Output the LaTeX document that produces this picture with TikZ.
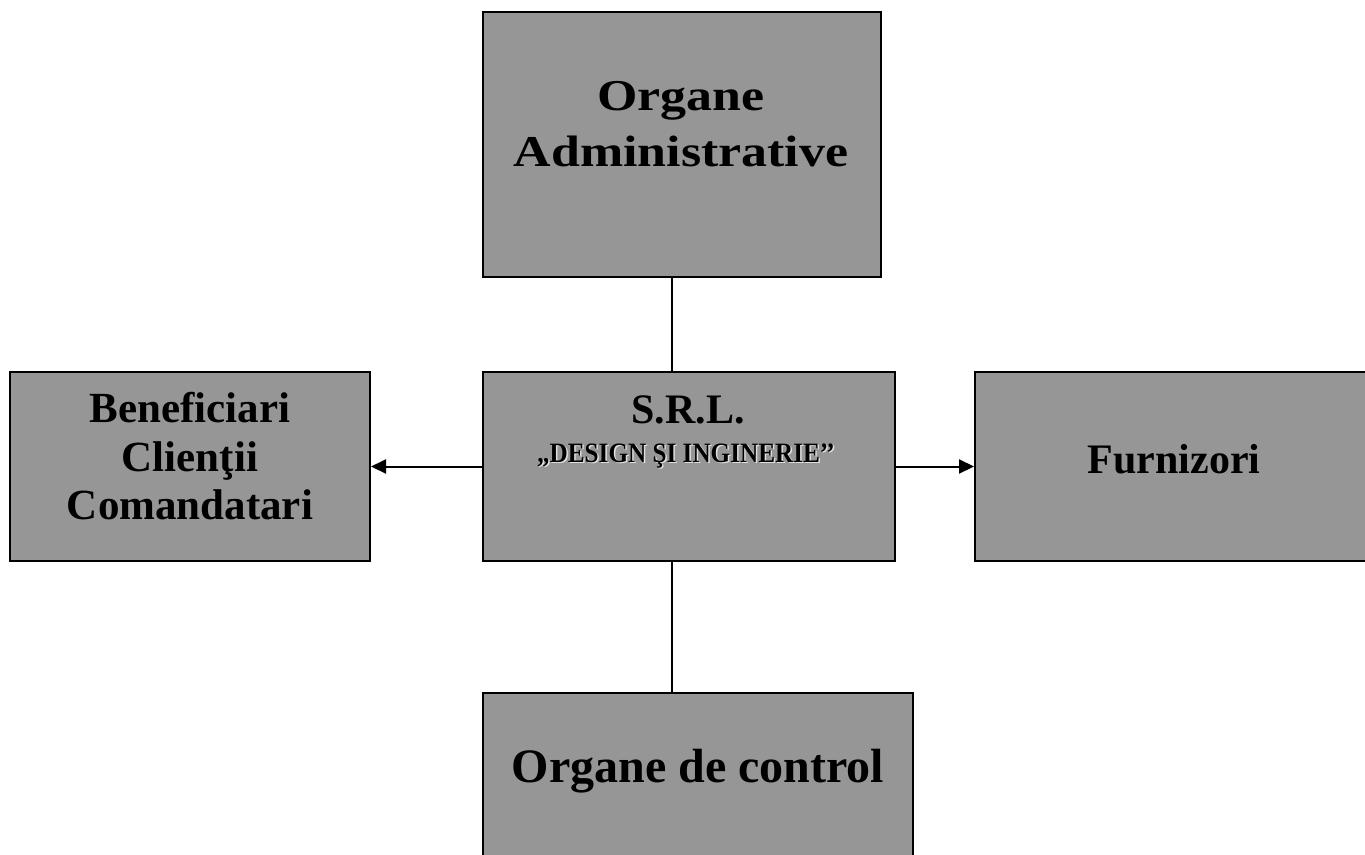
\documentclass[tikz,border=0pt]{standalone}
\usepackage{fontspec}
\setmainfont{Liberation Serif}
\newfontfamily\wideserif[FakeStretch=1.18]{Liberation Serif}
\newfontfamily\narrowserif[FakeStretch=0.9]{Liberation Serif}
\usetikzlibrary{arrows.meta}
\definecolor{boxgray}{RGB}{150,150,150}
\tikzstyle{unit} = [rectangle, draw=black, line width=2pt, fill=boxgray, inner sep=0pt]
\tikzstyle{boxtext} = [align=center, inner sep=0pt]
\newcommand{\embossed}[1]{\rlap{\kern1.5pt\raisebox{-1.5pt}{\color{black!12}#1}}#1}

\begin{document}
\begin{tikzpicture}[x=1pt, y=-1pt]
        \tikzset{myline/.style={line width=2pt},
            myptr/.style={line width=2pt, -{Triangle[length=15pt,width=14pt]}}}
        \useasboundingbox (0,0) rectangle (1365,854);
        \clip (0,0) rectangle (1365,854);
        \fill [white] (0,0) rectangle (1365,854);

        \node (admin) [unit, minimum width=398pt, minimum height=265pt] at (682,144.5) {};
        \node (srl) [unit, minimum width=412pt, minimum height=189pt] at (689,466.5) {};
        \node (benef) [unit, minimum width=360pt, minimum height=189pt] at (190,466.5) {};
        \node (furn) [unit, minimum width=398pt, minimum height=189pt] at (1174,466.5) {};
        \node (control) [unit, minimum width=430pt, minimum height=187pt] at (698,786.5) {};

        \node (admintext) [boxtext, font=\wideserif\bfseries\fontsize{44}{56}\selectfont] at (681,124) {Organe\\Administrative};
        \node (srltitle) [boxtext, anchor=base, font=\bfseries\fontsize{42}{48}\selectfont] at (688,423) {S.R.L.};
        \node (srlname) [boxtext, anchor=base, font=\narrowserif\bfseries\fontsize{28}{32}\selectfont] at (686,462) {\embossed{„DESIGN ŞI INGINERIE’’}};
        \node (beneftext) [boxtext, font=\bfseries\fontsize{43}{48.5}\selectfont] at (190,456.5) {Beneficiari\\Clienţii\\Comandatari};
        \node (furntext) [boxtext, anchor=base, font=\bfseries\fontsize{42}{48}\selectfont] at (1174,473) {Furnizori};
        \node (controltext) [boxtext, anchor=base, font=\bfseries\fontsize{48}{54}\selectfont] at (698,782) {Organe de control};

        \coordinate (axis) at (672,0);
        \draw [myline] (admin.south -| axis) -- (srl.north -| axis);
        \draw [myline] (srl.south -| axis) -- (control.north -| axis);
        \draw [myptr] (srl.west) -- (benef.east);
        \draw [myptr] (srl.east) -- (furn.west);
    \end{tikzpicture}
\end{document}
